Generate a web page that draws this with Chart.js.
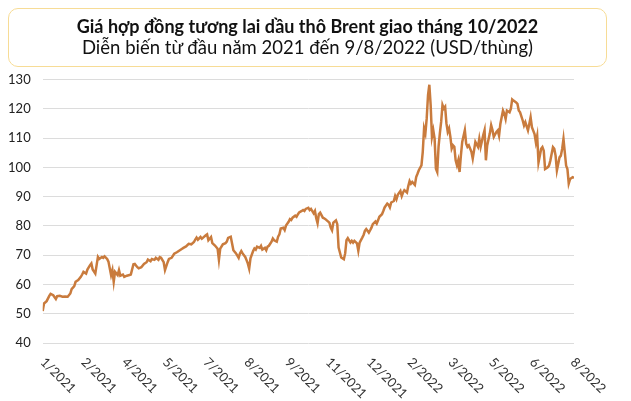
<!DOCTYPE html>
<html lang="vi">
  <head>
    <meta charset="UTF-8" />
    <title>Brent 10/2022</title>
    <script src="https://cdn.jsdelivr.net/npm/chart.js"></script>
    <style>
      body {
        margin: 0;
        background: #fff;
        font-family: Lato, sans-serif;
      }
      .wrap {
        position: relative;
        width: 631px;
        height: 401px;
      }
      .title-box {
        position: absolute;
        left: 8px;
        top: 8px;
        width: 597px;
        height: 57px;
        border: 1.5px solid #f7dc96;
        border-radius: 10px;
        text-align: center;
        color: #111;
      }
      .title-box .main {
        font-weight: bold;
        font-size: 18px;
        margin-top: 7px;
        line-height: 21px;
      }
      .title-box .sub {
        font-size: 18.5px;
        line-height: 21px;
      }
    </style>
  </head>
  <body>
    <div class="wrap">
      <canvas id="brentChart" width="631" height="401"></canvas>
      <div class="title-box">
        <div class="main">Giá hợp đồng tương lai dầu thô Brent giao tháng 10/2022</div>
        <div class="sub">Diễn biến từ đầu năm 2021 đến 9/8/2022 (USD/thùng)</div>
      </div>
    </div>

    <script>
      // trading day index (0 = first session of 2021) and settle price, USD/barrel
      const tradingDay = [
        0, 1, 3, 5, 6, 8, 10, 11, 13, 15, 17, 19, 21, 22, 24, 25, 27, 29, 30, 31,
        33, 34, 36, 37, 38, 40, 41, 42, 43, 45, 46, 47, 49, 50, 52, 53, 54, 55, 57, 58,
        59, 61, 62, 64, 66, 67, 69, 70, 72, 73, 75, 77, 79, 80, 82, 83, 85, 86, 88, 89,
        90, 92, 93, 95, 96, 98, 100, 102, 104, 106, 107, 109, 111, 113, 115, 116, 117, 118, 120, 121,
        122, 124, 125, 126, 128, 129, 131, 133, 134, 135, 137, 139, 140, 141, 143, 144, 145, 147, 149, 150,
        151, 152, 154, 155, 156, 157, 158, 160, 161, 162, 163, 165, 166, 167, 169, 170, 171, 172, 174, 175,
        176, 178, 179, 180, 181, 183, 184, 185, 187, 188, 189, 190, 192, 193, 194, 195, 197, 198, 199, 200,
        202, 203, 204, 206, 207, 208, 209, 210, 211, 213, 214, 215, 216, 218, 219, 220, 221, 223, 224, 225,
        226, 227, 229, 230, 231, 232, 234, 235, 236, 237, 239, 240, 241, 243, 244, 245, 246, 248, 249, 250,
        251, 253, 254, 255, 256, 258, 259, 260, 262, 263, 264, 265, 267, 268, 269, 270, 272, 273, 274, 275,
        277, 278, 279, 280, 281, 283, 284, 285, 286, 288, 289, 290, 291, 292, 293, 294, 295, 296, 297, 298,
        299, 300, 301, 302, 303, 304, 305, 306, 307, 308, 309, 310, 311, 312, 313, 314, 315, 316, 317, 318,
        319, 321, 322, 323, 324, 326, 327, 328, 329, 331, 332, 333, 335, 336, 337, 338, 340, 341, 342, 343,
        345, 346, 347, 348, 350, 351, 352, 353, 355, 356, 357, 358, 360, 361, 362, 363, 365, 366, 367, 369,
        370, 371, 372, 374, 375, 376, 377, 379, 380, 381, 382, 384, 385, 386, 388, 389, 390, 391, 393, 394,
        395, 396, 398, 399, 400, 401, 403, 404,
      ];
      const price = [
        50.9, 53.5, 54.3, 56.1, 56.8, 56.3, 55, 56, 56.1, 55.8, 55.9, 55.8, 56.9, 58.4, 59.4, 60.9, 61.5, 62.6, 63.4, 64.3,
        63.7, 65.1, 66.6, 67.2, 65.1, 63.7, 66.6, 69.4, 68.7, 69.4, 69.1, 69.6, 68.7, 67.8, 63.2, 64.9, 60.9, 64.3, 63.2, 64.9,
        63, 63.4, 62.6, 63, 63.2, 63.4, 66.9, 67, 65.9, 65.5, 65.9, 67, 67.6, 68.5, 67.9, 68.7, 68.4, 69.1, 68.4, 69.3,
        69.1, 67.6, 64.9, 67.6, 68.7, 69.1, 70.5, 71, 71.6, 72.2, 72.5, 73, 73.9, 73.7, 74.5, 75.3, 76, 75.3, 76.2, 75.6,
        76, 76.8, 77.1, 75.1, 76.2, 74.1, 73.3, 72.2, 68.4, 72.2, 73.7, 74.1, 74.6, 75.9, 76.3, 74, 71.7, 70.6, 69.1, 70.6,
        71.4, 70.6, 69.4, 68.3, 67.1, 65.4, 68.9, 71.4, 72.3, 71.9, 72.9, 72.5, 73.2, 71.9, 72.5, 71.7, 72.9, 73.2, 74.6, 75.7,
        75.1, 74.6, 76.3, 77.1, 79.1, 79.4, 78.6, 80.1, 81.4, 82.3, 82, 82.8, 83.5, 83.1, 83.9, 84.6, 85.1, 85.4, 85.1, 85.8,
        86.2, 85.4, 85.8, 84.3, 85.1, 82.6, 80.9, 84, 84.5, 82.8, 82.6, 82.3, 81.9, 81.1, 79.4, 78.5, 81.1, 81.9, 80.6, 72.6,
        70.9, 69.2, 68.6, 70.6, 75.1, 75.8, 74.3, 74.9, 74.3, 74.9, 74, 71.5, 74.3, 76, 76.9, 78.3, 78.9, 77.7, 78.5, 79.4,
        80.6, 81.5, 80.8, 81.9, 83.1, 84, 85.1, 86.3, 87.6, 87.2, 86.3, 88, 88.5, 90.2, 89.1, 90.6, 91.9, 90.2, 91.4, 92.2,
        91.4, 93.6, 95.3, 94.4, 95, 94, 96.7, 97.8, 99, 100.7, 105.3, 113.3, 111.6, 116.7, 124.7, 128.2, 121.3, 110.4, 112.7, 109.8,
        99.5, 98.4, 107, 111.6, 115.6, 121.3, 120.1, 120.7, 115, 112.1, 113.3, 110.4, 106.4, 107.5, 107, 102.4, 100.7, 102.4, 98.4, 104.1,
        108.7, 112.7, 108.1, 107, 107.5, 105.3, 103, 105.8, 108.7, 107, 109.8, 107, 111, 112.7, 102.4, 107.5, 111.6, 114.4, 112.7, 110.4,
        112.1, 112.6, 110.8, 114.8, 119.4, 118.3, 116.5, 119.4, 118.8, 120, 123.2, 122.8, 122.2, 121.7, 119.4, 118.8, 116, 114.3, 115.4, 112.6,
        114.8, 117.1, 113.7, 111.4, 108.6, 110.8, 101.7, 106.3, 106.9, 105.7, 99.4, 100, 100.6, 102.3, 106.9, 106.3, 104, 98.9, 103.4, 104,
        106.3, 109.7, 100.6, 99.4, 94.5, 96, 96.6, 96.4,
      ];
      const monthLabels = [
        "1/2021", "2/2021", "4/2021", "5/2021", "7/2021", "8/2021", "9/2021",
        "11/2021", "12/2021", "2/2022", "3/2022", "5/2022", "6/2022", "8/2022",
      ];
      const labelStep = 31; // one label every 31 sessions
      const lastDay = 404;

      // x labels run down to the right, which chart.js can't do on its own
      const slantedLabels = {
        id: "slantedLabels",
        afterDraw(chart) {
          const { ctx, chartArea } = chart;
          const xScale = chart.scales.x;
          ctx.save();
          ctx.font = "13px Lato";
          ctx.fillStyle = "#333";
          ctx.textAlign = "left";
          ctx.textBaseline = "middle";
          monthLabels.forEach((label, i) => {
            const px = xScale.getPixelForValue(i * labelStep);
            ctx.save();
            ctx.translate(px, chartArea.bottom + 17);
            ctx.rotate(Math.PI / 4);
            ctx.fillText(label, 0, 0);
            ctx.restore();
          });
          ctx.restore();
        },
      };

      new Chart(document.getElementById("brentChart"), {
        type: "line",
        data: {
          datasets: [
            {
              data: tradingDay.map((d, i) => ({ x: d, y: price[i] })),
              borderColor: "#c97b3d",
              borderWidth: 2.5,
              pointRadius: 0,
              tension: 0,
            },
          ],
        },
        options: {
          responsive: false,
          animation: false,
          layout: {
            padding: { left: 0, right: 57, top: 79.5, bottom: 58 },
          },
          plugins: {
            legend: { display: false },
            tooltip: { enabled: false },
          },
          scales: {
            x: {
              type: "linear",
              display: false,
              min: 0,
              max: lastDay,
            },
            y: {
              min: 40,
              max: 130,
              afterFit: (scale) => {
                scale.width = 42.7;
              },
              ticks: {
                stepSize: 10,
                padding: 12,
                color: "#222",
                font: { family: "Lato", size: 13 },
              },
              grid: {
                color: "#dcdcdc",
                drawTicks: false,
              },
              border: { display: false },
            },
          },
        },
        plugins: [slantedLabels],
      });
    </script>
  </body>
</html>
